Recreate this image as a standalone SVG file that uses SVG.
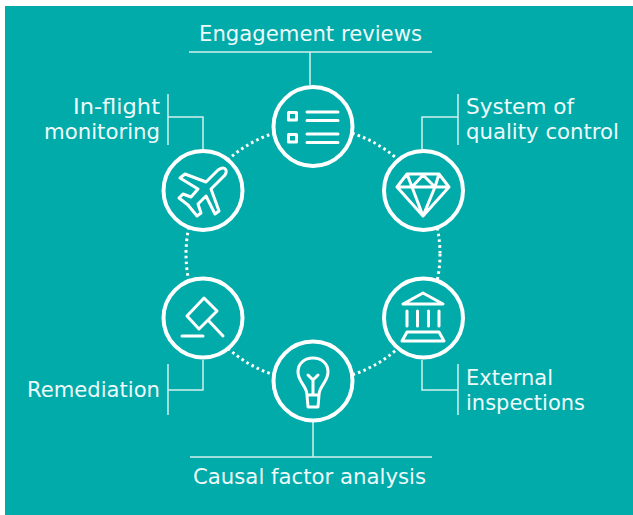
<svg xmlns="http://www.w3.org/2000/svg" width="633" height="515" viewBox="0 0 633 515">
<style>
.t{font-family:"DejaVu Sans",Verdana,sans-serif;font-size:21.5px;fill:#eefafa}
.l{fill:none;stroke:#d2f1ef;stroke-width:1.5}
.c{fill:#00abaa;stroke:#fff;stroke-width:4}
.i{fill:none;stroke:#fff;stroke-width:3;stroke-linejoin:round;stroke-linecap:round}
</style>
<rect width="633" height="515" fill="#fff"/>
<rect x="5" y="6" width="628" height="509" fill="#00abaa"/>
<g id="connectors">
<circle cx="313" cy="254" r="127" fill="none" stroke="#fff" stroke-width="3" stroke-dasharray="2.6 3.2"/>
<path class="l" d="M189 52H432M310 52V85M190 457H432M313 422V457M168 94V145M168 117H203V149M458 94V145M458 117H422V149M168 364V415M168 390H203V360M458 364V415M458 390H422V360"/>
</g>
<g id="engagement-reviews">
<circle class="c" cx="313" cy="126.500" r="39.500"/>
<rect class="i" x="288.500" y="112.500" width="8" height="7.500"/>
<rect class="i" x="288.500" y="134.500" width="8" height="7.500"/>
<path class="i" d="M307 112H338M307 120.500H338M307 134H338M307 142.500H338"/>
<text class="t" x="199" y="41" textLength="223" lengthAdjust="spacingAndGlyphs">Engagement reviews</text>
</g>
<g id="in-flight-monitoring">
<circle class="c" cx="203" cy="190.500" r="39.500"/>
<path class="i" d="M180 178L185 174L206 182L218 170Q224 166 226 170Q227 174 223 177L211 189L219 211L215 214L206 196L198 204L201 213L197 216L188 205L179 198L183 194L191 197L198 189Z"/>
<text class="t" x="73" y="114" textLength="87" lengthAdjust="spacingAndGlyphs">In-flight</text>
<text class="t" x="44" y="139" textLength="116" lengthAdjust="spacingAndGlyphs">monitoring</text>
</g>
<g id="system-of-quality-control">
<circle class="c" cx="423.500" cy="190.500" r="39.500"/>
<path class="i" d="M407 174H439L449 187L423 216L397 187ZM397 187H449M407 174L412 187L423 175L435 187L439 174M412 187L423 216L435 187"/>
<text class="t" x="466" y="114" textLength="108" lengthAdjust="spacingAndGlyphs">System of</text>
<text class="t" x="466" y="139" textLength="153" lengthAdjust="spacingAndGlyphs">quality control</text>
</g>
<g id="remediation">
<circle class="c" cx="203" cy="318" r="39.500"/>
<path class="i" d="M204 298L217 311L199 329L187 316ZM208 320L223 336M182 336H203"/>
<text class="t" x="27" y="397" textLength="133" lengthAdjust="spacingAndGlyphs">Remediation</text>
</g>
<g id="external-inspections">
<circle class="c" cx="423.500" cy="318" r="39.500"/>
<path class="i" d="M403 304L423 293L443 304ZM407 311V326M417.500 311V326M428.500 311V326M439 311V326M407 332H439L444 341H402Z"/>
<text class="t" x="466" y="385" textLength="87" lengthAdjust="spacingAndGlyphs">External</text>
<text class="t" x="466" y="410" textLength="119" lengthAdjust="spacingAndGlyphs">inspections</text>
</g>
<g id="causal-factor-analysis">
<circle class="c" cx="313" cy="381" r="39.500"/>
<path class="i" d="M307 395C307 386 298 382 298 372C298 363 305 358 313 358C321 358 328 363 328 372C328 382 319 386 319 395ZM313 395V379M308 375L313 380L318 375M307 395H319L318 407H308Z"/>
<text class="t" x="193" y="484" textLength="233" lengthAdjust="spacingAndGlyphs">Causal factor analysis</text>
</g>
</svg>
